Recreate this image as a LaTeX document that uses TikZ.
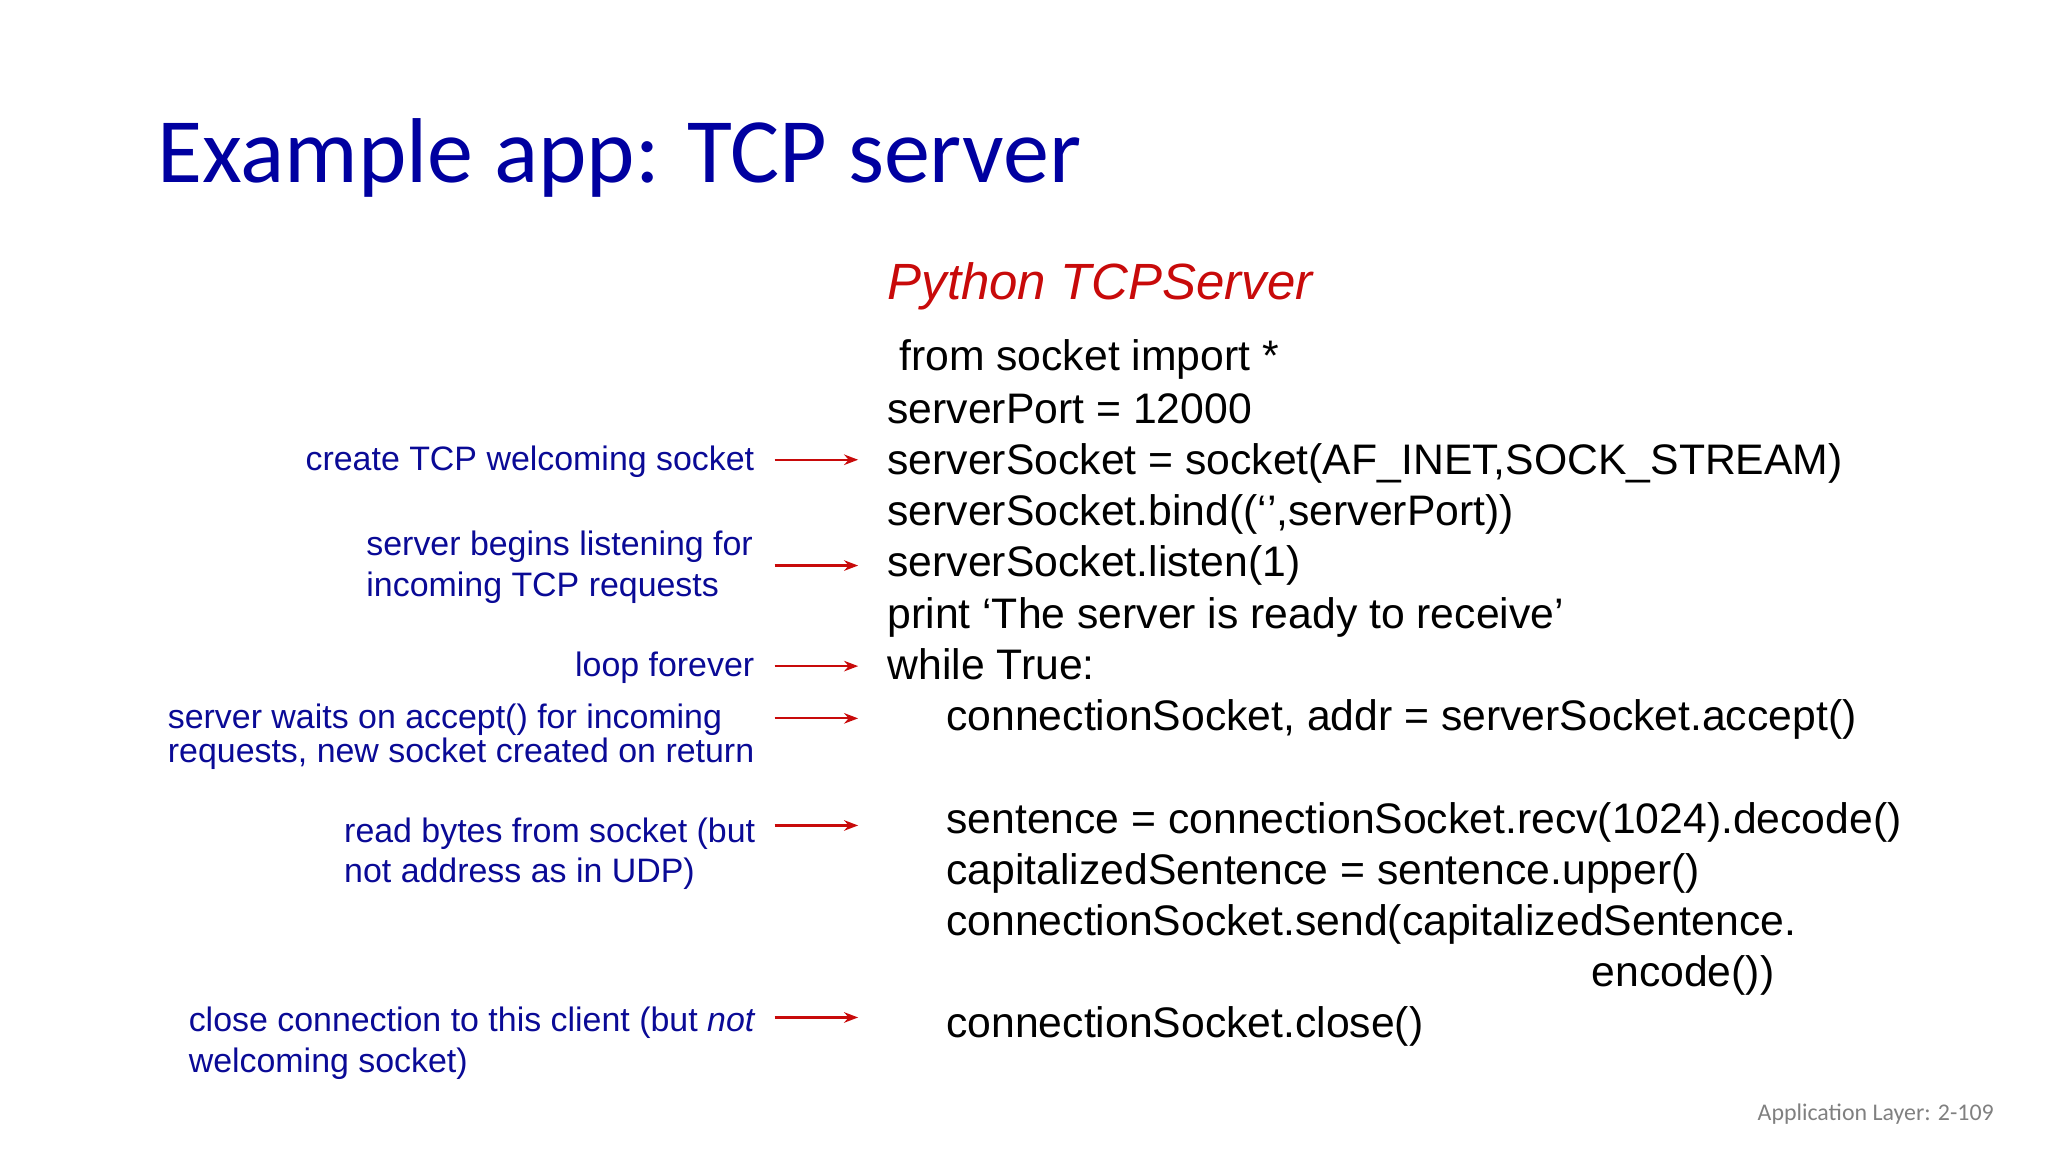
\documentclass[tikz,border=0pt]{standalone}
\usepackage{fontspec}
\setmainfont{Liberation Sans}
\newfontfamily\calib{Carlito}
\usetikzlibrary{arrows.meta}
\definecolor{tblue}{RGB}{0,0,160}
\definecolor{ablue}{RGB}{10,10,150}
\definecolor{cred}{RGB}{200,10,10}
\tikzset{
 code/.style={anchor=base west,inner sep=0pt,font=\fontsize{12.15}{14.6}\selectfont},
 ann/.style={inner sep=0pt,text=ablue,font=\fontsize{9.65}{11.5}\selectfont},
 annl/.style={ann,anchor=base west},
 arr/.style={cred,line width=0.6pt,-{Stealth[length=4pt,width=3pt]}}
}
\begin{document}
\begin{tikzpicture}[x=0.013061cm,y=-0.013061cm]
\useasboundingbox (0,0) rectangle (1568,882);
\node[anchor=base west,inner sep=0pt,text=tblue,font=\calib\fontsize{26.2}{30}\selectfont] (title) at (120,140) {Example app: TCP server};
\node[anchor=base west,inner sep=0pt,text=cred,font=\itshape\fontsize{14.5}{16}\selectfont] (head) at (679,229) {Python TCPServer};
\node[code] (c1) at (688,284) {from socket import *};
\node[code] (c2) at (679,324) {serverPort = 12000};
\node[code] (c3) at (679,363) {serverSocket = socket(AF\_INET,SOCK\_STREAM)};
\node[code] (c4) at (679,402) {serverSocket.bind((‘’,serverPort))};
\node[code] (c5) at (679,441) {serverSocket.listen(1)};
\node[code] (c6) at (679,481) {print ‘The server is ready to receive’};
\node[code] (c7) at (679,520) {while True:};
\node[code] (c8) at (724,559) {connectionSocket, addr = serverSocket.accept()};
\node[code] (c9) at (724,638) {sentence = connectionSocket.recv(1024).decode()};
\node[code] (c10) at (724,677) {capitalizedSentence = sentence.upper()};
\node[code] (c11) at (724,716) {connectionSocket.send(capitalizedSentence.};
\node[code] (c12) at (1218,755) {encode())};
\node[code] (c13) at (724,794) {connectionSocket.close()};
\node[ann,anchor=base east] (n1) at (578,360) {create TCP welcoming socket};
\node[annl] (n2a) at (280,425) {server begins listening for};
\node[annl] (n2b) at (280,457) {incoming TCP requests};
\node[ann,anchor=base east] (n3) at (578,518) {loop forever};
\node[annl] (n4a) at (128,558) {server waits on accept() for incoming};
\node[annl] (n4b) at (128,584) {requests, new socket created on return};
\node[annl] (n5a) at (263,645) {read bytes from socket (but};
\node[annl] (n5b) at (263,676) {not address as in UDP)};
\node[annl] (n6a) at (144,790) {close connection to this client (but \textit{not}};
\node[annl] (n6b) at (144,821) {welcoming socket)};
\foreach \i/\y in {1/352,2/433,3/510,4/550,5/632,6/779}{
 \coordinate (s\i) at (593,\y); \coordinate (e\i) at (657,\y);
 \draw[arr] (s\i) -- (e\i);}
\node[anchor=base east,inner sep=0pt,text=gray,font=\calib\fontsize{6.8}{8}\selectfont] (foot) at (1527,858) {Application Layer: 2-109};
\end{tikzpicture}
\end{document}
